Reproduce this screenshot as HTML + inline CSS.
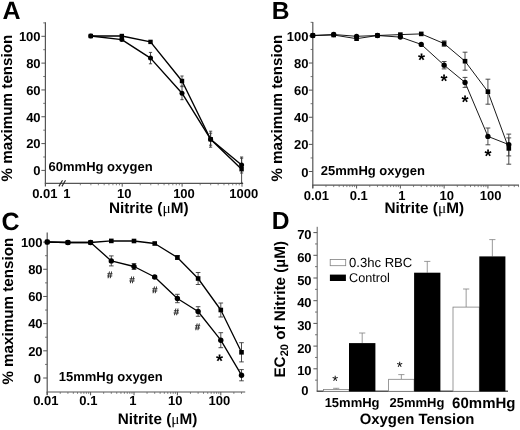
<!DOCTYPE html>
<html lang="en"><head><meta charset="utf-8"><title>Figure</title>
<style>
html,body{margin:0;padding:0;background:#fff;}
body{width:520px;height:430px;overflow:hidden;}
svg{display:block;font-family:"Liberation Sans", sans-serif;filter:grayscale(1);-webkit-font-smoothing:antialiased;text-rendering:geometricPrecision;}
</style></head><body>
<svg width="520" height="430" viewBox="0 0 520 430">
<rect x="0" y="0" width="520" height="430" fill="#fff"/>
<text x="2.60" y="18.90" font-size="25" font-weight="bold" text-anchor="start" fill="#000" >A</text>
<line x1="45.40" y1="22.30" x2="45.40" y2="186.40" stroke="#555" stroke-width="1.2" />
<line x1="41.40" y1="170.40" x2="45.40" y2="170.40" stroke="#555" stroke-width="1.0" />
<text x="40.60" y="175.15" font-size="13" font-weight="bold" text-anchor="end" fill="#000" >0</text>
<line x1="41.40" y1="143.58" x2="45.40" y2="143.58" stroke="#555" stroke-width="1.0" />
<text x="40.60" y="148.33" font-size="13" font-weight="bold" text-anchor="end" fill="#000" >20</text>
<line x1="41.40" y1="116.76" x2="45.40" y2="116.76" stroke="#555" stroke-width="1.0" />
<text x="40.60" y="121.51" font-size="13" font-weight="bold" text-anchor="end" fill="#000" >40</text>
<line x1="41.40" y1="89.94" x2="45.40" y2="89.94" stroke="#555" stroke-width="1.0" />
<text x="40.60" y="94.69" font-size="13" font-weight="bold" text-anchor="end" fill="#000" >60</text>
<line x1="41.40" y1="63.12" x2="45.40" y2="63.12" stroke="#555" stroke-width="1.0" />
<text x="40.60" y="67.87" font-size="13" font-weight="bold" text-anchor="end" fill="#000" >80</text>
<line x1="41.40" y1="36.30" x2="45.40" y2="36.30" stroke="#555" stroke-width="1.0" />
<text x="40.60" y="41.05" font-size="13" font-weight="bold" text-anchor="end" fill="#000" >100</text>
<line x1="43.20" y1="156.99" x2="45.40" y2="156.99" stroke="#555" stroke-width="0.8" />
<line x1="43.20" y1="130.17" x2="45.40" y2="130.17" stroke="#555" stroke-width="0.8" />
<line x1="43.20" y1="103.35" x2="45.40" y2="103.35" stroke="#555" stroke-width="0.8" />
<line x1="43.20" y1="76.53" x2="45.40" y2="76.53" stroke="#555" stroke-width="0.8" />
<line x1="43.20" y1="49.71" x2="45.40" y2="49.71" stroke="#555" stroke-width="0.8" />
<line x1="43.20" y1="22.89" x2="45.40" y2="22.89" stroke="#555" stroke-width="0.8" />
<text transform="translate(12.40,108.10) rotate(-90)" font-size="15.2" font-weight="bold" text-anchor="middle" fill="#000">% maximum tension</text>
<line x1="44.80" y1="183.40" x2="242.30" y2="183.40" stroke="#555" stroke-width="1.2" />
<line x1="58.90" y1="186.40" x2="62.50" y2="180.20" stroke="#222" stroke-width="1.1" />
<line x1="61.90" y1="186.40" x2="65.50" y2="180.20" stroke="#222" stroke-width="1.1" />
<line x1="80.33" y1="183.40" x2="80.33" y2="185.30" stroke="#555" stroke-width="0.7" />
<line x1="90.88" y1="183.40" x2="90.88" y2="185.30" stroke="#555" stroke-width="0.7" />
<line x1="98.36" y1="183.40" x2="98.36" y2="185.30" stroke="#555" stroke-width="0.7" />
<line x1="104.17" y1="183.40" x2="104.17" y2="185.30" stroke="#555" stroke-width="0.7" />
<line x1="108.91" y1="183.40" x2="108.91" y2="185.30" stroke="#555" stroke-width="0.7" />
<line x1="112.92" y1="183.40" x2="112.92" y2="185.30" stroke="#555" stroke-width="0.7" />
<line x1="116.40" y1="183.40" x2="116.40" y2="185.30" stroke="#555" stroke-width="0.7" />
<line x1="119.46" y1="183.40" x2="119.46" y2="185.30" stroke="#555" stroke-width="0.7" />
<line x1="122.20" y1="183.40" x2="122.20" y2="186.70" stroke="#555" stroke-width="1.0" />
<line x1="140.23" y1="183.40" x2="140.23" y2="185.30" stroke="#555" stroke-width="0.7" />
<line x1="150.78" y1="183.40" x2="150.78" y2="185.30" stroke="#555" stroke-width="0.7" />
<line x1="158.26" y1="183.40" x2="158.26" y2="185.30" stroke="#555" stroke-width="0.7" />
<line x1="164.07" y1="183.40" x2="164.07" y2="185.30" stroke="#555" stroke-width="0.7" />
<line x1="168.81" y1="183.40" x2="168.81" y2="185.30" stroke="#555" stroke-width="0.7" />
<line x1="172.82" y1="183.40" x2="172.82" y2="185.30" stroke="#555" stroke-width="0.7" />
<line x1="176.30" y1="183.40" x2="176.30" y2="185.30" stroke="#555" stroke-width="0.7" />
<line x1="179.36" y1="183.40" x2="179.36" y2="185.30" stroke="#555" stroke-width="0.7" />
<line x1="182.10" y1="183.40" x2="182.10" y2="186.70" stroke="#555" stroke-width="1.0" />
<line x1="200.13" y1="183.40" x2="200.13" y2="185.30" stroke="#555" stroke-width="0.7" />
<line x1="210.68" y1="183.40" x2="210.68" y2="185.30" stroke="#555" stroke-width="0.7" />
<line x1="218.16" y1="183.40" x2="218.16" y2="185.30" stroke="#555" stroke-width="0.7" />
<line x1="223.97" y1="183.40" x2="223.97" y2="185.30" stroke="#555" stroke-width="0.7" />
<line x1="228.71" y1="183.40" x2="228.71" y2="185.30" stroke="#555" stroke-width="0.7" />
<line x1="232.72" y1="183.40" x2="232.72" y2="185.30" stroke="#555" stroke-width="0.7" />
<line x1="236.20" y1="183.40" x2="236.20" y2="185.30" stroke="#555" stroke-width="0.7" />
<line x1="239.26" y1="183.40" x2="239.26" y2="185.30" stroke="#555" stroke-width="0.7" />
<line x1="242.00" y1="181.90" x2="242.00" y2="186.70" stroke="#555" stroke-width="1.0" />
<text x="44.80" y="198.20" font-size="13" font-weight="bold" text-anchor="middle" fill="#000" >0.01</text>
<text x="66.80" y="198.20" font-size="13" font-weight="bold" text-anchor="middle" fill="#000" >1</text>
<text x="124.20" y="198.20" font-size="13" font-weight="bold" text-anchor="middle" fill="#000" >10</text>
<text x="184.00" y="198.20" font-size="13" font-weight="bold" text-anchor="middle" fill="#000" >100</text>
<text x="243.70" y="198.20" font-size="13" font-weight="bold" text-anchor="middle" fill="#000" >1000</text>
<text x="148.70" y="213.20" font-size="15.3" font-weight="bold" text-anchor="middle" fill="#000" >Nitrite (<tspan font-family="'Liberation Serif', serif" font-weight="normal">μ</tspan>M)</text>
<text x="48.60" y="170.60" font-size="13" font-weight="bold" text-anchor="start" fill="#000" >60mmHg oxygen</text>
<polyline points="90.80,36.00 121.80,36.00 150.50,41.90 182.00,81.00 210.60,139.20 241.60,169.20" fill="none" stroke="#000" stroke-width="1.4" stroke-linejoin="round"/>
<polyline points="90.80,36.00 121.80,39.60 150.50,58.10 182.00,93.20 210.60,139.20 241.60,165.00" fill="none" stroke="#000" stroke-width="1.4" stroke-linejoin="round"/>
<line x1="182.00" y1="76.00" x2="182.00" y2="86.00" stroke="#383838" stroke-width="0.9" />
<line x1="180.40" y1="76.00" x2="183.60" y2="76.00" stroke="#383838" stroke-width="0.9" />
<line x1="180.40" y1="86.00" x2="183.60" y2="86.00" stroke="#383838" stroke-width="0.9" />
<line x1="210.60" y1="131.20" x2="210.60" y2="147.20" stroke="#383838" stroke-width="0.9" />
<line x1="209.00" y1="131.20" x2="212.20" y2="131.20" stroke="#383838" stroke-width="0.9" />
<line x1="209.00" y1="147.20" x2="212.20" y2="147.20" stroke="#383838" stroke-width="0.9" />
<line x1="241.60" y1="158.20" x2="241.60" y2="183.50" stroke="#383838" stroke-width="0.9" />
<line x1="240.00" y1="158.20" x2="243.20" y2="158.20" stroke="#383838" stroke-width="0.9" />
<line x1="240.00" y1="183.50" x2="243.20" y2="183.50" stroke="#383838" stroke-width="0.9" />
<line x1="150.50" y1="52.40" x2="150.50" y2="63.80" stroke="#383838" stroke-width="0.9" />
<line x1="148.90" y1="52.40" x2="152.10" y2="52.40" stroke="#383838" stroke-width="0.9" />
<line x1="148.90" y1="63.80" x2="152.10" y2="63.80" stroke="#383838" stroke-width="0.9" />
<line x1="182.00" y1="86.70" x2="182.00" y2="99.70" stroke="#383838" stroke-width="0.9" />
<line x1="180.40" y1="86.70" x2="183.60" y2="86.70" stroke="#383838" stroke-width="0.9" />
<line x1="180.40" y1="99.70" x2="183.60" y2="99.70" stroke="#383838" stroke-width="0.9" />
<line x1="210.60" y1="133.20" x2="210.60" y2="145.20" stroke="#383838" stroke-width="0.9" />
<line x1="209.00" y1="133.20" x2="212.20" y2="133.20" stroke="#383838" stroke-width="0.9" />
<line x1="209.00" y1="145.20" x2="212.20" y2="145.20" stroke="#383838" stroke-width="0.9" />
<line x1="241.60" y1="157.00" x2="241.60" y2="173.00" stroke="#383838" stroke-width="0.9" />
<line x1="240.00" y1="157.00" x2="243.20" y2="157.00" stroke="#383838" stroke-width="0.9" />
<line x1="240.00" y1="173.00" x2="243.20" y2="173.00" stroke="#383838" stroke-width="0.9" />
<rect x="88.60" y="33.80" width="4.4" height="4.4" fill="#000"/>
<rect x="119.60" y="33.80" width="4.4" height="4.4" fill="#000"/>
<rect x="148.30" y="39.70" width="4.4" height="4.4" fill="#000"/>
<rect x="179.80" y="78.80" width="4.4" height="4.4" fill="#000"/>
<rect x="208.40" y="137.00" width="4.4" height="4.4" fill="#000"/>
<rect x="239.40" y="167.00" width="4.4" height="4.4" fill="#000"/>
<circle cx="90.80" cy="36.00" r="2.5" fill="#000"/>
<circle cx="121.80" cy="39.60" r="2.5" fill="#000"/>
<circle cx="150.50" cy="58.10" r="2.5" fill="#000"/>
<circle cx="182.00" cy="93.20" r="2.5" fill="#000"/>
<circle cx="210.60" cy="139.20" r="2.5" fill="#000"/>
<circle cx="241.60" cy="165.00" r="2.5" fill="#000"/>
<text x="271.70" y="18.50" font-size="24.6" font-weight="bold" text-anchor="start" fill="#000" >B</text>
<line x1="312.80" y1="22.00" x2="312.80" y2="188.20" stroke="#555" stroke-width="1.2" />
<line x1="308.80" y1="171.50" x2="312.80" y2="171.50" stroke="#555" stroke-width="1.0" />
<text x="308.60" y="177.05" font-size="13" font-weight="bold" text-anchor="end" fill="#000" >0</text>
<line x1="308.80" y1="144.38" x2="312.80" y2="144.38" stroke="#555" stroke-width="1.0" />
<text x="308.40" y="149.13" font-size="13" font-weight="bold" text-anchor="end" fill="#000" >20</text>
<line x1="308.80" y1="117.26" x2="312.80" y2="117.26" stroke="#555" stroke-width="1.0" />
<text x="308.40" y="122.01" font-size="13" font-weight="bold" text-anchor="end" fill="#000" >40</text>
<line x1="308.80" y1="90.14" x2="312.80" y2="90.14" stroke="#555" stroke-width="1.0" />
<text x="308.40" y="94.89" font-size="13" font-weight="bold" text-anchor="end" fill="#000" >60</text>
<line x1="308.80" y1="63.02" x2="312.80" y2="63.02" stroke="#555" stroke-width="1.0" />
<text x="308.40" y="67.77" font-size="13" font-weight="bold" text-anchor="end" fill="#000" >80</text>
<line x1="308.80" y1="35.90" x2="312.80" y2="35.90" stroke="#555" stroke-width="1.0" />
<text x="308.40" y="40.65" font-size="13" font-weight="bold" text-anchor="end" fill="#000" >100</text>
<line x1="310.60" y1="157.94" x2="312.80" y2="157.94" stroke="#555" stroke-width="0.8" />
<line x1="310.60" y1="130.82" x2="312.80" y2="130.82" stroke="#555" stroke-width="0.8" />
<line x1="310.60" y1="103.70" x2="312.80" y2="103.70" stroke="#555" stroke-width="0.8" />
<line x1="310.60" y1="76.58" x2="312.80" y2="76.58" stroke="#555" stroke-width="0.8" />
<line x1="310.60" y1="49.46" x2="312.80" y2="49.46" stroke="#555" stroke-width="0.8" />
<line x1="310.60" y1="22.34" x2="312.80" y2="22.34" stroke="#555" stroke-width="0.8" />
<text transform="translate(282.20,108.20) rotate(-90)" font-size="15.2" font-weight="bold" text-anchor="middle" fill="#000">% maximum tension</text>
<line x1="312.20" y1="185.20" x2="519.00" y2="185.20" stroke="#555" stroke-width="1.2" />
<line x1="312.80" y1="185.20" x2="312.80" y2="188.50" stroke="#555" stroke-width="1.0" />
<line x1="325.98" y1="185.20" x2="325.98" y2="187.10" stroke="#555" stroke-width="0.7" />
<line x1="333.69" y1="185.20" x2="333.69" y2="187.10" stroke="#555" stroke-width="0.7" />
<line x1="339.16" y1="185.20" x2="339.16" y2="187.10" stroke="#555" stroke-width="0.7" />
<line x1="343.40" y1="185.20" x2="343.40" y2="187.10" stroke="#555" stroke-width="0.7" />
<line x1="346.87" y1="185.20" x2="346.87" y2="187.10" stroke="#555" stroke-width="0.7" />
<line x1="349.80" y1="185.20" x2="349.80" y2="187.10" stroke="#555" stroke-width="0.7" />
<line x1="352.34" y1="185.20" x2="352.34" y2="187.10" stroke="#555" stroke-width="0.7" />
<line x1="354.58" y1="185.20" x2="354.58" y2="187.10" stroke="#555" stroke-width="0.7" />
<line x1="356.58" y1="185.20" x2="356.58" y2="188.50" stroke="#555" stroke-width="1.0" />
<line x1="369.76" y1="185.20" x2="369.76" y2="187.10" stroke="#555" stroke-width="0.7" />
<line x1="377.47" y1="185.20" x2="377.47" y2="187.10" stroke="#555" stroke-width="0.7" />
<line x1="382.94" y1="185.20" x2="382.94" y2="187.10" stroke="#555" stroke-width="0.7" />
<line x1="387.18" y1="185.20" x2="387.18" y2="187.10" stroke="#555" stroke-width="0.7" />
<line x1="390.65" y1="185.20" x2="390.65" y2="187.10" stroke="#555" stroke-width="0.7" />
<line x1="393.58" y1="185.20" x2="393.58" y2="187.10" stroke="#555" stroke-width="0.7" />
<line x1="396.12" y1="185.20" x2="396.12" y2="187.10" stroke="#555" stroke-width="0.7" />
<line x1="398.36" y1="185.20" x2="398.36" y2="187.10" stroke="#555" stroke-width="0.7" />
<line x1="400.36" y1="185.20" x2="400.36" y2="188.50" stroke="#555" stroke-width="1.0" />
<line x1="413.54" y1="185.20" x2="413.54" y2="187.10" stroke="#555" stroke-width="0.7" />
<line x1="421.25" y1="185.20" x2="421.25" y2="187.10" stroke="#555" stroke-width="0.7" />
<line x1="426.72" y1="185.20" x2="426.72" y2="187.10" stroke="#555" stroke-width="0.7" />
<line x1="430.96" y1="185.20" x2="430.96" y2="187.10" stroke="#555" stroke-width="0.7" />
<line x1="434.43" y1="185.20" x2="434.43" y2="187.10" stroke="#555" stroke-width="0.7" />
<line x1="437.36" y1="185.20" x2="437.36" y2="187.10" stroke="#555" stroke-width="0.7" />
<line x1="439.90" y1="185.20" x2="439.90" y2="187.10" stroke="#555" stroke-width="0.7" />
<line x1="442.14" y1="185.20" x2="442.14" y2="187.10" stroke="#555" stroke-width="0.7" />
<line x1="444.14" y1="185.20" x2="444.14" y2="188.50" stroke="#555" stroke-width="1.0" />
<line x1="457.32" y1="185.20" x2="457.32" y2="187.10" stroke="#555" stroke-width="0.7" />
<line x1="465.03" y1="185.20" x2="465.03" y2="187.10" stroke="#555" stroke-width="0.7" />
<line x1="470.50" y1="185.20" x2="470.50" y2="187.10" stroke="#555" stroke-width="0.7" />
<line x1="474.74" y1="185.20" x2="474.74" y2="187.10" stroke="#555" stroke-width="0.7" />
<line x1="478.21" y1="185.20" x2="478.21" y2="187.10" stroke="#555" stroke-width="0.7" />
<line x1="481.14" y1="185.20" x2="481.14" y2="187.10" stroke="#555" stroke-width="0.7" />
<line x1="483.68" y1="185.20" x2="483.68" y2="187.10" stroke="#555" stroke-width="0.7" />
<line x1="485.92" y1="185.20" x2="485.92" y2="187.10" stroke="#555" stroke-width="0.7" />
<line x1="487.92" y1="185.20" x2="487.92" y2="188.50" stroke="#555" stroke-width="1.0" />
<line x1="501.10" y1="185.20" x2="501.10" y2="187.10" stroke="#555" stroke-width="0.7" />
<line x1="508.81" y1="185.20" x2="508.81" y2="187.10" stroke="#555" stroke-width="0.7" />
<line x1="514.28" y1="185.20" x2="514.28" y2="187.10" stroke="#555" stroke-width="0.7" />
<line x1="518.52" y1="185.20" x2="518.52" y2="187.10" stroke="#555" stroke-width="0.7" />
<text x="316.40" y="200.00" font-size="13" font-weight="bold" text-anchor="middle" fill="#000" >0.01</text>
<text x="358.80" y="200.00" font-size="13" font-weight="bold" text-anchor="middle" fill="#000" >0.1</text>
<text x="401.76" y="200.00" font-size="13" font-weight="bold" text-anchor="middle" fill="#000" >1</text>
<text x="446.74" y="200.00" font-size="13" font-weight="bold" text-anchor="middle" fill="#000" >10</text>
<text x="490.62" y="200.00" font-size="13" font-weight="bold" text-anchor="middle" fill="#000" >100</text>
<text x="424.20" y="213.00" font-size="15.3" font-weight="bold" text-anchor="middle" fill="#000" >Nitrite (<tspan font-family="'Liberation Serif', serif" font-weight="normal">μ</tspan>M)</text>
<text x="320.80" y="175.10" font-size="13" font-weight="bold" text-anchor="start" fill="#000" >25mmHg oxygen</text>
<polyline points="312.80,35.50 333.69,35.00 356.58,38.70 377.47,35.50 400.36,34.60 421.25,33.90 444.14,43.60 465.03,61.20 487.92,91.70 508.81,148.40" fill="none" stroke="#000" stroke-width="0.9" stroke-linejoin="round"/>
<polyline points="312.80,35.50 333.69,34.50 356.58,36.30 377.47,35.50 400.36,37.10 421.25,44.40 444.14,65.20 465.03,82.40 487.92,136.40 508.81,144.60" fill="none" stroke="#000" stroke-width="0.9" stroke-linejoin="round"/>
<line x1="444.14" y1="40.90" x2="444.14" y2="46.30" stroke="#383838" stroke-width="0.9" />
<line x1="441.74" y1="40.90" x2="446.54" y2="40.90" stroke="#383838" stroke-width="0.9" />
<line x1="441.74" y1="46.30" x2="446.54" y2="46.30" stroke="#383838" stroke-width="0.9" />
<line x1="465.03" y1="52.20" x2="465.03" y2="70.20" stroke="#383838" stroke-width="0.9" />
<line x1="462.63" y1="52.20" x2="467.43" y2="52.20" stroke="#383838" stroke-width="0.9" />
<line x1="462.63" y1="70.20" x2="467.43" y2="70.20" stroke="#383838" stroke-width="0.9" />
<line x1="487.92" y1="79.20" x2="487.92" y2="104.20" stroke="#383838" stroke-width="0.9" />
<line x1="485.52" y1="79.20" x2="490.32" y2="79.20" stroke="#383838" stroke-width="0.9" />
<line x1="485.52" y1="104.20" x2="490.32" y2="104.20" stroke="#383838" stroke-width="0.9" />
<line x1="508.81" y1="134.10" x2="508.81" y2="164.20" stroke="#383838" stroke-width="0.9" />
<line x1="506.41" y1="134.10" x2="511.21" y2="134.10" stroke="#383838" stroke-width="0.9" />
<line x1="506.41" y1="164.20" x2="511.21" y2="164.20" stroke="#383838" stroke-width="0.9" />
<line x1="444.14" y1="61.50" x2="444.14" y2="68.90" stroke="#383838" stroke-width="0.9" />
<line x1="441.74" y1="61.50" x2="446.54" y2="61.50" stroke="#383838" stroke-width="0.9" />
<line x1="441.74" y1="68.90" x2="446.54" y2="68.90" stroke="#383838" stroke-width="0.9" />
<line x1="465.03" y1="77.40" x2="465.03" y2="87.40" stroke="#383838" stroke-width="0.9" />
<line x1="462.63" y1="77.40" x2="467.43" y2="77.40" stroke="#383838" stroke-width="0.9" />
<line x1="462.63" y1="87.40" x2="467.43" y2="87.40" stroke="#383838" stroke-width="0.9" />
<line x1="487.92" y1="128.00" x2="487.92" y2="144.80" stroke="#383838" stroke-width="0.9" />
<line x1="485.52" y1="128.00" x2="490.32" y2="128.00" stroke="#383838" stroke-width="0.9" />
<line x1="485.52" y1="144.80" x2="490.32" y2="144.80" stroke="#383838" stroke-width="0.9" />
<line x1="508.81" y1="137.90" x2="508.81" y2="155.90" stroke="#383838" stroke-width="0.9" />
<line x1="506.41" y1="137.90" x2="511.21" y2="137.90" stroke="#383838" stroke-width="0.9" />
<line x1="506.41" y1="155.90" x2="511.21" y2="155.90" stroke="#383838" stroke-width="0.9" />
<rect x="310.50" y="33.20" width="4.6" height="4.6" fill="#000"/>
<rect x="331.39" y="32.70" width="4.6" height="4.6" fill="#000"/>
<rect x="354.28" y="36.40" width="4.6" height="4.6" fill="#000"/>
<rect x="375.17" y="33.20" width="4.6" height="4.6" fill="#000"/>
<rect x="398.06" y="32.30" width="4.6" height="4.6" fill="#000"/>
<rect x="418.95" y="31.60" width="4.6" height="4.6" fill="#000"/>
<rect x="441.84" y="41.30" width="4.6" height="4.6" fill="#000"/>
<rect x="462.73" y="58.90" width="4.6" height="4.6" fill="#000"/>
<rect x="485.62" y="89.40" width="4.6" height="4.6" fill="#000"/>
<rect x="506.51" y="146.10" width="4.6" height="4.6" fill="#000"/>
<circle cx="312.80" cy="35.50" r="2.65" fill="#000"/>
<circle cx="333.69" cy="34.50" r="2.65" fill="#000"/>
<circle cx="356.58" cy="36.30" r="2.65" fill="#000"/>
<circle cx="377.47" cy="35.50" r="2.65" fill="#000"/>
<circle cx="400.36" cy="37.10" r="2.65" fill="#000"/>
<circle cx="421.25" cy="44.40" r="2.65" fill="#000"/>
<circle cx="444.14" cy="65.20" r="2.65" fill="#000"/>
<circle cx="465.03" cy="82.40" r="2.65" fill="#000"/>
<circle cx="487.92" cy="136.40" r="2.65" fill="#000"/>
<circle cx="508.81" cy="144.60" r="2.65" fill="#000"/>
<text x="421.40" y="65.60" font-size="18" font-weight="bold" text-anchor="middle" fill="#000" >*</text>
<text x="444.00" y="87.00" font-size="18" font-weight="bold" text-anchor="middle" fill="#000" >*</text>
<text x="464.90" y="108.40" font-size="18" font-weight="bold" text-anchor="middle" fill="#000" >*</text>
<text x="487.90" y="161.60" font-size="18" font-weight="bold" text-anchor="middle" fill="#000" >*</text>
<text x="1.50" y="230.10" font-size="25" font-weight="bold" text-anchor="start" fill="#000" >C</text>
<line x1="47.20" y1="232.50" x2="47.20" y2="395.00" stroke="#555" stroke-width="1.2" />
<line x1="43.20" y1="378.00" x2="47.20" y2="378.00" stroke="#555" stroke-width="1.0" />
<text x="41.00" y="383.15" font-size="13" font-weight="bold" text-anchor="end" fill="#000" >0</text>
<line x1="43.20" y1="350.82" x2="47.20" y2="350.82" stroke="#555" stroke-width="1.0" />
<text x="42.60" y="355.57" font-size="13" font-weight="bold" text-anchor="end" fill="#000" >20</text>
<line x1="43.20" y1="323.64" x2="47.20" y2="323.64" stroke="#555" stroke-width="1.0" />
<text x="42.60" y="328.39" font-size="13" font-weight="bold" text-anchor="end" fill="#000" >40</text>
<line x1="43.20" y1="296.46" x2="47.20" y2="296.46" stroke="#555" stroke-width="1.0" />
<text x="42.60" y="301.21" font-size="13" font-weight="bold" text-anchor="end" fill="#000" >60</text>
<line x1="43.20" y1="269.28" x2="47.20" y2="269.28" stroke="#555" stroke-width="1.0" />
<text x="42.60" y="274.03" font-size="13" font-weight="bold" text-anchor="end" fill="#000" >80</text>
<line x1="43.20" y1="242.10" x2="47.20" y2="242.10" stroke="#555" stroke-width="1.0" />
<text x="42.60" y="246.85" font-size="13" font-weight="bold" text-anchor="end" fill="#000" >100</text>
<line x1="45.00" y1="364.41" x2="47.20" y2="364.41" stroke="#555" stroke-width="0.8" />
<line x1="45.00" y1="337.23" x2="47.20" y2="337.23" stroke="#555" stroke-width="0.8" />
<line x1="45.00" y1="310.05" x2="47.20" y2="310.05" stroke="#555" stroke-width="0.8" />
<line x1="45.00" y1="282.87" x2="47.20" y2="282.87" stroke="#555" stroke-width="0.8" />
<line x1="45.00" y1="255.69" x2="47.20" y2="255.69" stroke="#555" stroke-width="0.8" />
<text transform="translate(12.70,311.20) rotate(-90)" font-size="15.2" font-weight="bold" text-anchor="middle" fill="#000">% maximum tension</text>
<line x1="46.60" y1="392.00" x2="245.20" y2="392.00" stroke="#555" stroke-width="1.2" />
<line x1="47.20" y1="392.00" x2="47.20" y2="395.30" stroke="#555" stroke-width="1.0" />
<line x1="60.26" y1="392.00" x2="60.26" y2="393.90" stroke="#555" stroke-width="0.7" />
<line x1="67.91" y1="392.00" x2="67.91" y2="393.90" stroke="#555" stroke-width="0.7" />
<line x1="73.33" y1="392.00" x2="73.33" y2="393.90" stroke="#555" stroke-width="0.7" />
<line x1="77.54" y1="392.00" x2="77.54" y2="393.90" stroke="#555" stroke-width="0.7" />
<line x1="80.97" y1="392.00" x2="80.97" y2="393.90" stroke="#555" stroke-width="0.7" />
<line x1="83.88" y1="392.00" x2="83.88" y2="393.90" stroke="#555" stroke-width="0.7" />
<line x1="86.39" y1="392.00" x2="86.39" y2="393.90" stroke="#555" stroke-width="0.7" />
<line x1="88.61" y1="392.00" x2="88.61" y2="393.90" stroke="#555" stroke-width="0.7" />
<line x1="90.60" y1="392.00" x2="90.60" y2="395.30" stroke="#555" stroke-width="1.0" />
<line x1="103.66" y1="392.00" x2="103.66" y2="393.90" stroke="#555" stroke-width="0.7" />
<line x1="111.31" y1="392.00" x2="111.31" y2="393.90" stroke="#555" stroke-width="0.7" />
<line x1="116.73" y1="392.00" x2="116.73" y2="393.90" stroke="#555" stroke-width="0.7" />
<line x1="120.94" y1="392.00" x2="120.94" y2="393.90" stroke="#555" stroke-width="0.7" />
<line x1="124.37" y1="392.00" x2="124.37" y2="393.90" stroke="#555" stroke-width="0.7" />
<line x1="127.28" y1="392.00" x2="127.28" y2="393.90" stroke="#555" stroke-width="0.7" />
<line x1="129.79" y1="392.00" x2="129.79" y2="393.90" stroke="#555" stroke-width="0.7" />
<line x1="132.01" y1="392.00" x2="132.01" y2="393.90" stroke="#555" stroke-width="0.7" />
<line x1="134.00" y1="392.00" x2="134.00" y2="395.30" stroke="#555" stroke-width="1.0" />
<line x1="147.06" y1="392.00" x2="147.06" y2="393.90" stroke="#555" stroke-width="0.7" />
<line x1="154.71" y1="392.00" x2="154.71" y2="393.90" stroke="#555" stroke-width="0.7" />
<line x1="160.13" y1="392.00" x2="160.13" y2="393.90" stroke="#555" stroke-width="0.7" />
<line x1="164.34" y1="392.00" x2="164.34" y2="393.90" stroke="#555" stroke-width="0.7" />
<line x1="167.77" y1="392.00" x2="167.77" y2="393.90" stroke="#555" stroke-width="0.7" />
<line x1="170.68" y1="392.00" x2="170.68" y2="393.90" stroke="#555" stroke-width="0.7" />
<line x1="173.19" y1="392.00" x2="173.19" y2="393.90" stroke="#555" stroke-width="0.7" />
<line x1="175.41" y1="392.00" x2="175.41" y2="393.90" stroke="#555" stroke-width="0.7" />
<line x1="177.40" y1="392.00" x2="177.40" y2="395.30" stroke="#555" stroke-width="1.0" />
<line x1="190.46" y1="392.00" x2="190.46" y2="393.90" stroke="#555" stroke-width="0.7" />
<line x1="198.11" y1="392.00" x2="198.11" y2="393.90" stroke="#555" stroke-width="0.7" />
<line x1="203.53" y1="392.00" x2="203.53" y2="393.90" stroke="#555" stroke-width="0.7" />
<line x1="207.74" y1="392.00" x2="207.74" y2="393.90" stroke="#555" stroke-width="0.7" />
<line x1="211.17" y1="392.00" x2="211.17" y2="393.90" stroke="#555" stroke-width="0.7" />
<line x1="214.08" y1="392.00" x2="214.08" y2="393.90" stroke="#555" stroke-width="0.7" />
<line x1="216.59" y1="392.00" x2="216.59" y2="393.90" stroke="#555" stroke-width="0.7" />
<line x1="218.81" y1="392.00" x2="218.81" y2="393.90" stroke="#555" stroke-width="0.7" />
<line x1="220.80" y1="392.00" x2="220.80" y2="395.30" stroke="#555" stroke-width="1.0" />
<line x1="233.86" y1="392.00" x2="233.86" y2="393.90" stroke="#555" stroke-width="0.7" />
<line x1="241.51" y1="392.00" x2="241.51" y2="393.90" stroke="#555" stroke-width="0.7" />
<text x="45.80" y="404.80" font-size="13" font-weight="bold" text-anchor="middle" fill="#000" >0.01</text>
<text x="88.40" y="404.80" font-size="13" font-weight="bold" text-anchor="middle" fill="#000" >0.1</text>
<text x="132.90" y="404.80" font-size="13" font-weight="bold" text-anchor="middle" fill="#000" >1</text>
<text x="175.20" y="404.80" font-size="13" font-weight="bold" text-anchor="middle" fill="#000" >10</text>
<text x="219.40" y="404.80" font-size="13" font-weight="bold" text-anchor="middle" fill="#000" >100</text>
<text x="157.50" y="424.40" font-size="15.3" font-weight="bold" text-anchor="middle" fill="#000" >Nitrite (<tspan font-family="'Liberation Serif', serif" font-weight="normal">μ</tspan>M)</text>
<text x="58.70" y="380.70" font-size="13" font-weight="bold" text-anchor="start" fill="#000" >15mmHg oxygen</text>
<polyline points="47.20,242.00 67.91,242.50 90.60,242.50 111.31,240.90 134.00,241.00 154.71,243.50 177.40,257.50 198.11,278.50 220.80,310.00 241.51,352.30" fill="none" stroke="#000" stroke-width="1.3" stroke-linejoin="round"/>
<polyline points="47.20,242.00 67.91,242.50 90.60,242.50 111.31,260.90 134.00,266.50 154.71,277.00 177.40,298.50 198.11,311.50 220.80,340.20 241.51,375.20" fill="none" stroke="#000" stroke-width="1.3" stroke-linejoin="round"/>
<line x1="177.40" y1="255.50" x2="177.40" y2="259.50" stroke="#383838" stroke-width="0.9" />
<line x1="175.10" y1="255.50" x2="179.70" y2="255.50" stroke="#383838" stroke-width="0.9" />
<line x1="175.10" y1="259.50" x2="179.70" y2="259.50" stroke="#383838" stroke-width="0.9" />
<line x1="198.11" y1="272.50" x2="198.11" y2="284.50" stroke="#383838" stroke-width="0.9" />
<line x1="195.81" y1="272.50" x2="200.41" y2="272.50" stroke="#383838" stroke-width="0.9" />
<line x1="195.81" y1="284.50" x2="200.41" y2="284.50" stroke="#383838" stroke-width="0.9" />
<line x1="220.80" y1="303.00" x2="220.80" y2="317.00" stroke="#383838" stroke-width="0.9" />
<line x1="218.50" y1="303.00" x2="223.10" y2="303.00" stroke="#383838" stroke-width="0.9" />
<line x1="218.50" y1="317.00" x2="223.10" y2="317.00" stroke="#383838" stroke-width="0.9" />
<line x1="241.51" y1="342.70" x2="241.51" y2="361.90" stroke="#383838" stroke-width="0.9" />
<line x1="239.21" y1="342.70" x2="243.81" y2="342.70" stroke="#383838" stroke-width="0.9" />
<line x1="239.21" y1="361.90" x2="243.81" y2="361.90" stroke="#383838" stroke-width="0.9" />
<line x1="111.31" y1="255.90" x2="111.31" y2="265.90" stroke="#383838" stroke-width="0.9" />
<line x1="109.01" y1="255.90" x2="113.61" y2="255.90" stroke="#383838" stroke-width="0.9" />
<line x1="109.01" y1="265.90" x2="113.61" y2="265.90" stroke="#383838" stroke-width="0.9" />
<line x1="134.00" y1="263.50" x2="134.00" y2="269.50" stroke="#383838" stroke-width="0.9" />
<line x1="131.70" y1="263.50" x2="136.30" y2="263.50" stroke="#383838" stroke-width="0.9" />
<line x1="131.70" y1="269.50" x2="136.30" y2="269.50" stroke="#383838" stroke-width="0.9" />
<line x1="154.71" y1="275.50" x2="154.71" y2="278.50" stroke="#383838" stroke-width="0.9" />
<line x1="152.41" y1="275.50" x2="157.01" y2="275.50" stroke="#383838" stroke-width="0.9" />
<line x1="152.41" y1="278.50" x2="157.01" y2="278.50" stroke="#383838" stroke-width="0.9" />
<line x1="177.40" y1="294.30" x2="177.40" y2="302.70" stroke="#383838" stroke-width="0.9" />
<line x1="175.10" y1="294.30" x2="179.70" y2="294.30" stroke="#383838" stroke-width="0.9" />
<line x1="175.10" y1="302.70" x2="179.70" y2="302.70" stroke="#383838" stroke-width="0.9" />
<line x1="198.11" y1="306.70" x2="198.11" y2="316.30" stroke="#383838" stroke-width="0.9" />
<line x1="195.81" y1="306.70" x2="200.41" y2="306.70" stroke="#383838" stroke-width="0.9" />
<line x1="195.81" y1="316.30" x2="200.41" y2="316.30" stroke="#383838" stroke-width="0.9" />
<line x1="220.80" y1="332.70" x2="220.80" y2="347.70" stroke="#383838" stroke-width="0.9" />
<line x1="218.50" y1="332.70" x2="223.10" y2="332.70" stroke="#383838" stroke-width="0.9" />
<line x1="218.50" y1="347.70" x2="223.10" y2="347.70" stroke="#383838" stroke-width="0.9" />
<line x1="241.51" y1="369.60" x2="241.51" y2="380.80" stroke="#383838" stroke-width="0.9" />
<line x1="239.21" y1="369.60" x2="243.81" y2="369.60" stroke="#383838" stroke-width="0.9" />
<line x1="239.21" y1="380.80" x2="243.81" y2="380.80" stroke="#383838" stroke-width="0.9" />
<rect x="44.90" y="239.70" width="4.6" height="4.6" fill="#000"/>
<rect x="65.61" y="240.20" width="4.6" height="4.6" fill="#000"/>
<rect x="88.30" y="240.20" width="4.6" height="4.6" fill="#000"/>
<rect x="109.01" y="238.60" width="4.6" height="4.6" fill="#000"/>
<rect x="131.70" y="238.70" width="4.6" height="4.6" fill="#000"/>
<rect x="152.41" y="241.20" width="4.6" height="4.6" fill="#000"/>
<rect x="175.10" y="255.20" width="4.6" height="4.6" fill="#000"/>
<rect x="195.81" y="276.20" width="4.6" height="4.6" fill="#000"/>
<rect x="218.50" y="307.70" width="4.6" height="4.6" fill="#000"/>
<rect x="239.21" y="350.00" width="4.6" height="4.6" fill="#000"/>
<circle cx="47.20" cy="242.00" r="2.7" fill="#000"/>
<circle cx="67.91" cy="242.50" r="2.7" fill="#000"/>
<circle cx="90.60" cy="242.50" r="2.7" fill="#000"/>
<circle cx="111.31" cy="260.90" r="2.7" fill="#000"/>
<circle cx="134.00" cy="266.50" r="2.7" fill="#000"/>
<circle cx="154.71" cy="277.00" r="2.7" fill="#000"/>
<circle cx="177.40" cy="298.50" r="2.7" fill="#000"/>
<circle cx="198.11" cy="311.50" r="2.7" fill="#000"/>
<circle cx="220.80" cy="340.20" r="2.7" fill="#000"/>
<circle cx="241.51" cy="375.20" r="2.7" fill="#000"/>
<text x="109.80" y="278.00" font-size="9.2" font-weight="normal" text-anchor="middle" fill="#111" stroke="#111" stroke-width="0.3">#</text>
<text x="132.10" y="283.30" font-size="9.2" font-weight="normal" text-anchor="middle" fill="#111" stroke="#111" stroke-width="0.3">#</text>
<text x="154.90" y="293.30" font-size="9.2" font-weight="normal" text-anchor="middle" fill="#111" stroke="#111" stroke-width="0.3">#</text>
<text x="176.20" y="315.20" font-size="9.2" font-weight="normal" text-anchor="middle" fill="#111" stroke="#111" stroke-width="0.3">#</text>
<text x="197.60" y="329.50" font-size="9.2" font-weight="normal" text-anchor="middle" fill="#111" stroke="#111" stroke-width="0.3">#</text>
<text x="219.50" y="367.00" font-size="18" font-weight="bold" text-anchor="middle" fill="#000" >*</text>
<text x="271.70" y="228.90" font-size="24.6" font-weight="bold" text-anchor="start" fill="#000" >D</text>
<line x1="317.20" y1="226.80" x2="317.20" y2="391.30" stroke="#606060" stroke-width="1.0" />
<line x1="313.40" y1="368.80" x2="317.20" y2="368.80" stroke="#555" stroke-width="1.0" />
<text x="311.60" y="375.30" font-size="13" font-weight="bold" text-anchor="end" fill="#000" >10</text>
<line x1="313.40" y1="346.10" x2="317.20" y2="346.10" stroke="#555" stroke-width="1.0" />
<text x="311.60" y="352.60" font-size="13" font-weight="bold" text-anchor="end" fill="#000" >20</text>
<line x1="313.40" y1="323.40" x2="317.20" y2="323.40" stroke="#555" stroke-width="1.0" />
<text x="311.60" y="329.90" font-size="13" font-weight="bold" text-anchor="end" fill="#000" >30</text>
<line x1="313.40" y1="300.70" x2="317.20" y2="300.70" stroke="#555" stroke-width="1.0" />
<text x="311.60" y="307.20" font-size="13" font-weight="bold" text-anchor="end" fill="#000" >40</text>
<line x1="313.40" y1="278.00" x2="317.20" y2="278.00" stroke="#555" stroke-width="1.0" />
<text x="311.60" y="284.50" font-size="13" font-weight="bold" text-anchor="end" fill="#000" >50</text>
<line x1="313.40" y1="255.30" x2="317.20" y2="255.30" stroke="#555" stroke-width="1.0" />
<text x="311.60" y="261.80" font-size="13" font-weight="bold" text-anchor="end" fill="#000" >60</text>
<line x1="313.40" y1="232.60" x2="317.20" y2="232.60" stroke="#555" stroke-width="1.0" />
<text x="311.60" y="239.10" font-size="13" font-weight="bold" text-anchor="end" fill="#000" >70</text>
<text x="308.40" y="394.90" font-size="13" font-weight="bold" text-anchor="end" fill="#000" >0</text>
<line x1="315.00" y1="380.15" x2="317.20" y2="380.15" stroke="#555" stroke-width="0.8" />
<line x1="315.00" y1="357.45" x2="317.20" y2="357.45" stroke="#555" stroke-width="0.8" />
<line x1="315.00" y1="334.75" x2="317.20" y2="334.75" stroke="#555" stroke-width="0.8" />
<line x1="315.00" y1="312.05" x2="317.20" y2="312.05" stroke="#555" stroke-width="0.8" />
<line x1="315.00" y1="289.35" x2="317.20" y2="289.35" stroke="#555" stroke-width="0.8" />
<line x1="315.00" y1="266.65" x2="317.20" y2="266.65" stroke="#555" stroke-width="0.8" />
<line x1="315.00" y1="243.95" x2="317.20" y2="243.95" stroke="#555" stroke-width="0.8" />
<text transform="translate(284.7,309.3) rotate(-90)" font-size="15.3" font-weight="bold" text-anchor="middle" fill="#000">EC<tspan font-size="11" dy="3.5">20</tspan><tspan dy="-3.5"> of Nitrite (µM)</tspan></text>
<line x1="316.70" y1="391.30" x2="508.00" y2="391.30" stroke="#555" stroke-width="1.4" />
<line x1="336.20" y1="389.50" x2="336.20" y2="388.30" stroke="#808080" stroke-width="0.8" />
<line x1="333.10" y1="388.30" x2="339.30" y2="388.30" stroke="#808080" stroke-width="0.8" />
<rect x="323.40" y="389.50" width="25.60" height="1.80" fill="#fff" stroke="#808080" stroke-width="0.8"/>
<line x1="362.20" y1="343.10" x2="362.20" y2="333.00" stroke="#808080" stroke-width="0.8" />
<line x1="359.10" y1="333.00" x2="365.30" y2="333.00" stroke="#808080" stroke-width="0.8" />
<rect x="349.00" y="343.10" width="26.40" height="48.20" fill="#000"/>
<line x1="401.35" y1="379.30" x2="401.35" y2="374.60" stroke="#808080" stroke-width="0.8" />
<line x1="398.25" y1="374.60" x2="404.45" y2="374.60" stroke="#808080" stroke-width="0.8" />
<rect x="388.60" y="379.30" width="25.50" height="12.00" fill="#fff" stroke="#808080" stroke-width="0.8"/>
<line x1="427.25" y1="272.70" x2="427.25" y2="261.40" stroke="#808080" stroke-width="0.8" />
<line x1="424.15" y1="261.40" x2="430.35" y2="261.40" stroke="#808080" stroke-width="0.8" />
<rect x="414.10" y="272.70" width="26.30" height="118.60" fill="#000"/>
<line x1="466.15" y1="307.10" x2="466.15" y2="289.00" stroke="#808080" stroke-width="0.8" />
<line x1="463.05" y1="289.00" x2="469.25" y2="289.00" stroke="#808080" stroke-width="0.8" />
<rect x="453.00" y="307.10" width="26.30" height="84.20" fill="#fff" stroke="#808080" stroke-width="0.8"/>
<line x1="492.35" y1="256.40" x2="492.35" y2="239.60" stroke="#808080" stroke-width="0.8" />
<line x1="489.25" y1="239.60" x2="495.45" y2="239.60" stroke="#808080" stroke-width="0.8" />
<rect x="479.30" y="256.40" width="26.10" height="134.90" fill="#000"/>
<text x="335.20" y="386.00" font-size="15" font-weight="normal" text-anchor="middle" fill="#000" >*</text>
<text x="399.60" y="371.50" font-size="15" font-weight="normal" text-anchor="middle" fill="#000" >*</text>
<text x="352.10" y="406.80" font-size="13" font-weight="bold" text-anchor="middle" fill="#000" >15mmHg</text>
<text x="417.00" y="406.80" font-size="13" font-weight="bold" text-anchor="middle" fill="#000" >25mmHg</text>
<text x="483.80" y="407.50" font-size="15" font-weight="bold" text-anchor="middle" fill="#000" >60mmHg</text>
<text x="417.10" y="424.00" font-size="14.9" font-weight="bold" text-anchor="middle" fill="#000" >Oxygen Tension</text>
<rect x="330.2" y="259.5" width="15.5" height="6.2" fill="#fff" stroke="#808080" stroke-width="0.8"/>
<rect x="329.9" y="274.6" width="16" height="6.4" fill="#000"/>
<text x="349.00" y="266.80" font-size="13.1" font-weight="normal" text-anchor="start" fill="#000" >0.3hc RBC</text>
<text x="349.00" y="282.10" font-size="12.7" font-weight="normal" text-anchor="start" fill="#000" >Control</text>
</svg>
</body></html>
